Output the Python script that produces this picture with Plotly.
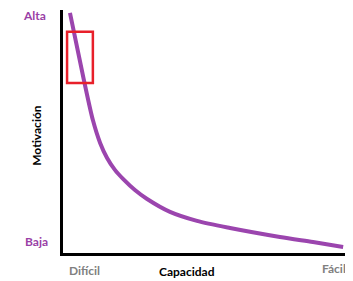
import plotly.graph_objects as go

# Curve data (capacity 0-100, motivation 0-100)
capacidad = [2.4, 7.2, 10.3, 12.8, 15.2, 17.9, 20.7, 24.8, 29.0, 36.9, 46.2, 57.6, 74.8, 86.2, 96.6]
motivacion = [98.8, 71.2, 54.7, 45.3, 39.1, 34.2, 30.5, 25.9, 22.2, 16.9, 13.2, 10.3, 6.6, 4.5, 2.5]

# Highlight box (data coordinates)
box_x = [1.4, 10.3]
box_y = [70.0, 91.0]

PURPLE = "#9B45AE"
LABEL_PURPLE = "#9A3FA6"
GRAY = "#808080"
FONT = "Lato"

fig = go.Figure()
fig.add_trace(go.Scatter(
    x=capacidad, y=motivacion, mode="lines",
    line=dict(color=PURPLE, width=4, shape="spline", smoothing=0.8),
    hoverinfo="skip", showlegend=False,
))

fig.add_shape(type="rect", xref="x", yref="y",
              x0=box_x[0], x1=box_x[1], y0=box_y[0], y1=box_y[1],
              line=dict(color="#E8202A", width=2.5))

fig.update_xaxes(range=[0, 100], showline=True, linecolor="black", linewidth=3,
                 showgrid=False, zeroline=False, showticklabels=False, ticks="")
fig.update_yaxes(range=[0, 100], showline=True, linecolor="black", linewidth=3,
                 showgrid=False, zeroline=False, showticklabels=False, ticks="")

def ann(text, x, y, color, size=12, bold=True, angle=0):
    t = f"<b>{text}</b>" if bold else text
    fig.add_annotation(text=t, xref="paper", yref="paper", x=x, y=y,
                       showarrow=False, textangle=angle,
                       font=dict(family=FONT, size=size, color=color),
                       xanchor="center", yanchor="middle")

ann("Alta", -0.097, 0.979, LABEL_PURPLE)
ann("Baja", -0.093, 0.049, LABEL_PURPLE)
ann("Motivación", -0.09, 0.486, "black", angle=-90)
ann("Difícil", 0.073, -0.07, GRAY)
ann("Capacidad", 0.428, -0.078, "black")
ann("Fácil", 0.934, -0.062, GRAY)

# page body has an 8px default margin; size the figure to compensate
fig.update_layout(
    width=345, height=273,
    margin=dict(l=55, r=0, t=2, b=28, autoexpand=False),
    paper_bgcolor="white", plot_bgcolor="white",
    showlegend=False,
)

fig.write_html("out.html")
